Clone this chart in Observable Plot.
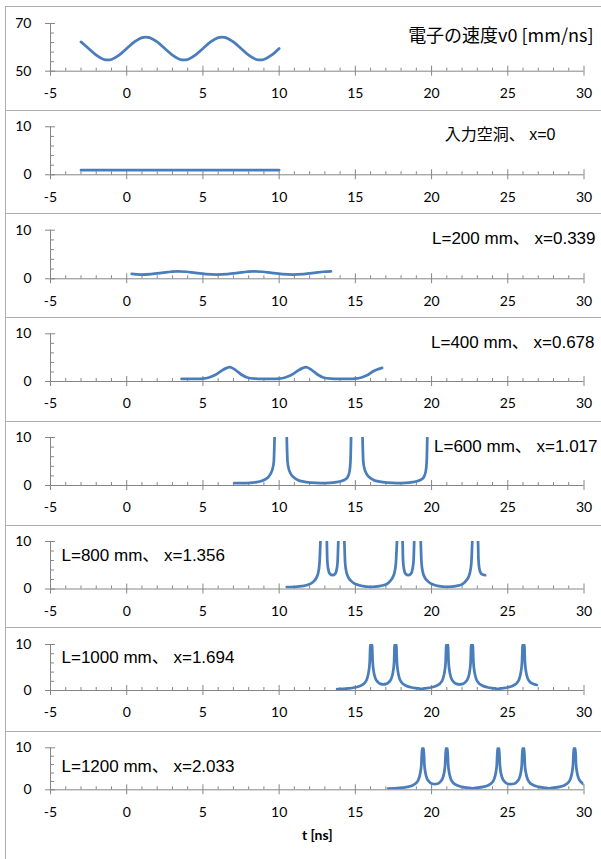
<!DOCTYPE html>
<html><head><meta charset="utf-8">
<script src="https://cdn.jsdelivr.net/npm/d3@7"></script>
<script src="https://cdn.jsdelivr.net/npm/@observablehq/plot@0.6"></script>
<style>
body{margin:0;background:#fff;}
#wrap{position:relative;width:601px;height:859px;overflow:hidden;background:#fff;}
.panel{position:absolute;left:0;}
.hline{position:absolute;left:5px;width:596px;height:0;border-top:1px solid #adadad;}
.vline{position:absolute;left:5px;top:6px;width:0;height:853px;border-left:1px solid #adadad;}
</style></head><body><div id="wrap"></div>
<script>
// ---- data ----
const xTicks = [-5, 0, 5, 10, 15, 20, 25, 30];
const panelLabels = [
  "電子の速度v0 [mm/ns]",
  "入力空洞、 x=0",
  "L=200 mm、 x=0.339",
  "L=400 mm、 x=0.678",
  "L=600 mm、 x=1.017",
  "L=800 mm、 x=1.356",
  "L=1000 mm、 x=1.694",
  "L=1200 mm、 x=2.033"
];
const xTitle = "t [ns]";

// panel 1: electron velocity v0 [mm/ns]
const t1 = [-3,-2.5,-2,-1.5,-1.25,-1,-0.5,0,0.5,1,1.25,1.5,2,2.5,3,3.5,3.75,4,4.5,5,5.5,6,6.25,6.5,7,7.5,8,8.5,8.75,9,9.5,10];
const v1 = [62.3,59.5,56.7,54.9,54.7,54.9,56.7,59.5,62.3,64.1,64.3,64.1,62.3,59.5,56.7,54.9,54.7,54.9,56.7,59.5,62.3,64.1,64.3,64.1,62.3,59.5,56.7,54.9,54.7,54.9,56.7,59.5];
// panel 2: input cavity
const t2 = [-3, 0, 5, 10];
const y2 = [1, 1, 1, 1];
// panel 3: L=200
const t3 = [0.33,0.9,1.6,2.3,2.9,3.36,3.9,4.5,5.2,5.9,6.6,7.3,7.9,8.36,8.9,9.5,10.2,10.9,11.6,12.3,12.9,13.4];
const y3 = [1.0,0.85,0.95,1.2,1.45,1.55,1.45,1.2,0.95,0.85,0.95,1.2,1.45,1.55,1.45,1.2,0.95,0.85,0.95,1.2,1.45,1.55];
// panel 4: L=400
const t4 = [3.6,4.5,5.0,5.4,5.8,6.2,6.5,6.77,7.0,7.3,7.6,7.9,8.4,9.2,10.0,10.4,10.8,11.2,11.5,11.77,12.0,12.3,12.6,12.9,13.4,14.2,15.0,15.4,15.8,16.2,16.5,16.75];
const y4 = [0.55,0.55,0.6,0.85,1.35,2.2,2.75,3.0,2.7,2.0,1.3,0.85,0.6,0.55,0.6,0.85,1.35,2.2,2.75,3.0,2.7,2.0,1.3,0.85,0.6,0.55,0.6,0.85,1.35,2.2,2.6,2.85];
// panel 5: L=600
const t5 = [7.06,7.6,8.1,8.5,8.85,9.1,9.3,9.45,9.57,9.65,9.7,null,
  10.5,10.55,10.63,10.75,10.95,11.25,11.6,12.1,12.7,13.3,13.75,14.1,14.35,14.5,14.62,14.68,14.72,null,
  15.47,15.52,15.6,15.72,15.92,16.22,16.6,17.1,17.7,18.3,18.75,19.1,19.35,19.5,19.62,19.68,19.72];
const y5 = [0.5,0.5,0.55,0.7,0.95,1.3,1.8,2.5,3.5,5.0,10,null,
  10,5.0,3.5,2.5,1.7,1.1,0.8,0.6,0.5,0.55,0.7,0.95,1.3,1.8,3.0,5.0,10,null,
  10,5.0,3.5,2.5,1.7,1.1,0.8,0.6,0.5,0.55,0.7,0.95,1.3,1.8,3.0,5.0,10];
// panel 6: L=800
const t6 = [10.5,11.0,11.5,11.85,12.1,12.3,12.45,12.57,12.65,12.71,null,
  13.13,13.16,13.22,13.32,13.5,13.68,13.78,13.84,13.88,null,
  14.28,14.33,14.42,14.55,14.75,15.05,15.5,15.9,16.3,16.65,16.95,17.15,17.32,17.46,17.57,17.66,17.73,null,
  18.1,18.13,18.19,18.29,18.47,18.65,18.75,18.82,18.86,null,
  19.29,19.34,19.43,19.56,19.76,20.06,20.5,20.9,21.3,21.65,21.95,22.12,22.28,22.42,22.52,22.61,22.67,null,
  23.05,23.08,23.14,23.24,23.38,23.51];
const y6 = [0.4,0.45,0.6,0.85,1.2,1.7,2.4,3.5,5.5,10,null,
  10,6,4.2,3.2,2.9,3.2,4.2,6,10,null,
  10,5.5,3.5,2.4,1.6,1.0,0.6,0.45,0.5,0.65,0.9,1.25,1.8,2.5,3.5,5.5,10,null,
  10,6,4.2,3.2,2.9,3.2,4.2,6,10,null,
  10,5.5,3.5,2.4,1.6,1.0,0.6,0.45,0.5,0.65,0.9,1.25,1.8,2.5,3.5,5.5,10,null,
  10,6,4.2,3.3,3.0,2.9];
// panel 7: L=1000
const t7 = [13.81,14.2,14.54,15.04,15.39,15.62,15.77,15.87,15.94,15.99,16.09,16.14,16.21,16.31,16.46,16.65,16.84,
  17.03,17.22,17.37,17.47,17.54,17.58,17.68,17.73,17.80,17.90,18.05,18.30,18.63,19.13,19.33,
  19.52,20.02,20.37,20.60,20.75,20.85,20.92,20.97,21.07,21.12,21.19,21.29,21.44,21.63,21.84,
  22.05,22.24,22.39,22.49,22.56,22.60,22.70,22.75,22.82,22.92,23.07,23.32,23.65,24.15,24.34,
  24.53,25.03,25.38,25.61,25.76,25.86,25.93,25.98,26.08,26.13,26.20,26.30,26.45,26.65,26.91];
const y7 = [0.3,0.35,0.45,0.7,1.1,1.7,2.6,4,6,10,10,6,4,2.7,1.9,1.45,1.35,
  1.45,1.9,2.7,4,6,10,10,6,4,2.6,1.7,1.1,0.7,0.45,0.35,
  0.45,0.7,1.1,1.7,2.6,4,6,10,10,6,4,2.7,1.9,1.45,1.35,
  1.45,1.9,2.7,4,6,10,10,6,4,2.6,1.7,1.1,0.7,0.45,0.35,
  0.45,0.7,1.1,1.7,2.6,4,6,10,10,6,4,2.7,1.9,1.45,1.2];
// panel 8: L=1200
const t8 = [17.15,17.55,17.93,18.43,18.78,19.01,19.16,19.26,19.33,19.38,19.48,19.53,19.60,19.70,19.85,20.04,20.21,
  20.38,20.57,20.72,20.82,20.89,20.94,21.04,21.09,21.16,21.26,21.41,21.66,21.99,22.49,22.69,
  22.88,23.38,23.73,23.96,24.11,24.21,24.28,24.33,24.43,24.48,24.55,24.65,24.80,24.99,25.20,
  25.41,25.60,25.75,25.85,25.92,25.97,26.07,26.12,26.19,26.29,26.44,26.69,27.02,27.52,27.70,
  27.88,28.38,28.73,28.96,29.11,29.21,29.28,29.33,29.43,29.48,29.55,29.65,29.80,30.0];
const y8 = [0.3,0.35,0.45,0.7,1.1,1.7,2.6,4,6,10,10,6,4,2.7,1.9,1.45,1.35,
  1.45,1.9,2.7,4,6,10,10,6,4,2.6,1.7,1.1,0.7,0.45,0.35,
  0.45,0.7,1.1,1.7,2.6,4,6,10,10,6,4,2.7,1.9,1.45,1.35,
  1.45,1.9,2.7,4,6,10,10,6,4,2.6,1.7,1.1,0.7,0.45,0.35,
  0.45,0.7,1.1,1.7,2.6,4,6,10,10,6,4,2.7,1.9,1.3];

const seriesT = [t1,t2,t3,t4,t5,t6,t7,t8];
const seriesY = [v1,y2,y3,y4,y5,y6,y7,y8];
const yDomains = [[50,70],[0,10],[0,10],[0,10],[0,10],[0,10],[0,10],[0,10]];
const yMinors = [[54,58,62,66],[2,4,6,8],[2,4,6,8],[2,4,6,8],[2,4,6,8],[2,4,6,8],[2,4,6,8],[2,4,6,8]];

// ---- layout (pixels) ----
const layout = [
  {top:6,   y1:23,    y0:70.7,  bottom:110, lx:593, ly:36,  anchor:"end",   fs:18},
  {top:110, y1:126.3, y0:174.3, bottom:213, lx:555, ly:134, anchor:"end",   fs:16},
  {top:213, y1:229.7, y0:278.3, bottom:317, lx:595, ly:238, anchor:"end",   fs:17},
  {top:317, y1:333.3, y0:381,   bottom:421, lx:594, ly:342, anchor:"end",   fs:17},
  {top:421, y1:437,   y0:485,   bottom:525, lx:597, ly:446, anchor:"end",   fs:17},
  {top:525, y1:541,   y0:588.5, bottom:627, lx:61,  ly:555, anchor:"start", fs:17},
  {top:627, y1:644,   y0:690,   bottom:731, lx:61,  ly:657, anchor:"start", fs:17},
  {top:731, y1:747.3, y0:789.3, bottom:859, lx:61,  ly:766, anchor:"start", fs:17}
];
const smooth = [true, true, true, true, false, false, false, false];

const W = 601, ML = 50, MR = 17.5;
const gray = "#868686", blue = "#4a7ebb";
const xMinor = d3.range(-5, 31).filter(d => d % 5 !== 0);
const wrap = document.getElementById("wrap");

layout.forEach((L, i) => {
  const H = L.bottom - L.top;
  const mt = L.y1 - L.top, mb = L.bottom - L.y0;
  const plotH = L.y0 - L.y1, plotW = W - ML - MR;
  const [ymin, ymax] = yDomains[i];
  const data = seriesT[i].map((t, k) => ({t, v: seriesY[i][k]}));
  const marks = [
    Plot.ruleY([ymin], {stroke: gray, strokeWidth: 1}),
    Plot.ruleX([-5], {stroke: gray, strokeWidth: 1}),
    Plot.tickX(xTicks, {x: d => d, stroke: gray, insetTop: plotH - 10, dy: 5}),
    Plot.tickX(xMinor, {x: d => d, stroke: gray, insetTop: plotH - 3}),
    Plot.tickY([ymin, ymax], {y: d => d, stroke: gray, insetRight: plotW - 10, dx: -5}),
    Plot.tickY(yMinors[i], {y: d => d, stroke: gray, insetRight: plotW - 4}),
    Plot.axisX({ticks: xTicks, tickSize: 0, tickPadding: 17, tickFormat: d => String(d), label: null, fontSize: 14, fill: "#000"}),
    Plot.axisY({ticks: [ymin, ymax], tickSize: 0, tickPadding: 19, tickFormat: d => String(d), label: null, fontSize: 14, fill: "#000"}),
    Plot.line(data, {x: "t", y: "v", stroke: blue, strokeWidth: 2.75, curve: smooth[i] ? "catmull-rom" : "monotone-x", clip: true}),
    Plot.text([panelLabels[i]], {frameAnchor: "top-left", dx: L.lx - ML, dy: L.ly - L.y1, textAnchor: L.anchor, lineAnchor: "middle",
      fontSize: L.fs, fill: "#000",
      fontFamily: i === 0 ? "'Noto Sans CJK JP', sans-serif" : "'Liberation Sans', 'Noto Sans CJK JP', sans-serif"})
  ];
  if (i === 7) {
    marks.push(Plot.text([xTitle], {frameAnchor: "bottom", dy: 46, lineAnchor: "middle", fontSize: 14, fontWeight: "bold", fill: "#000"}));
  }
  const svg = Plot.plot({
    width: W, height: H,
    marginLeft: ML, marginRight: MR, marginTop: mt, marginBottom: mb,
    x: {domain: [-5, 30]},
    y: {domain: [ymin, ymax]},
    style: {fontFamily: "Lato, 'Noto Sans CJK JP', sans-serif", fontSize: "14px", background: "transparent", overflow: "visible"},
    marks
  });
  const div = document.createElement("div");
  div.className = "panel";
  div.style.top = L.top + "px";
  div.appendChild(svg);
  wrap.appendChild(div);
  const hl = document.createElement("div");
  hl.className = "hline";
  hl.style.top = L.top + "px";
  wrap.appendChild(hl);
});
const vl = document.createElement("div");
vl.className = "vline";
wrap.appendChild(vl);
</script></body></html>
